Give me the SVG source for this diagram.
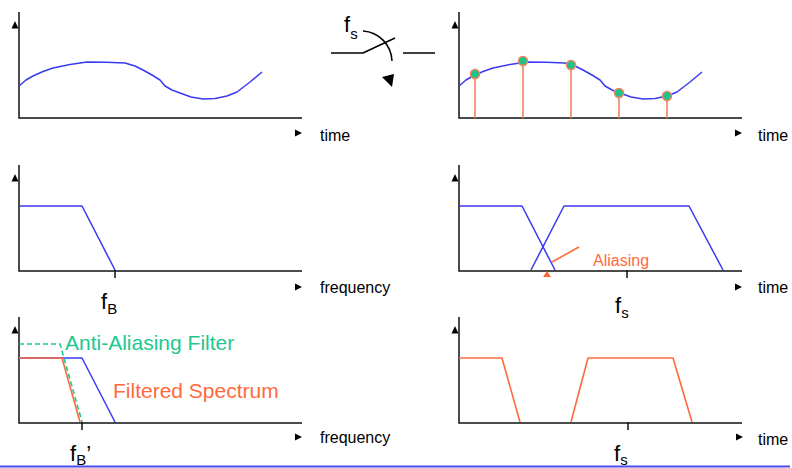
<svg xmlns="http://www.w3.org/2000/svg" xmlns:xlink="http://www.w3.org/1999/xlink" width="792" height="468" viewBox="0 0 792 468">
<style>
.ax{stroke:#111;stroke-width:1.5;fill:none}
.ah{fill:#000}
.bl{stroke:#3a3af2;stroke-width:1.5;fill:none;stroke-linejoin:round}
.or{stroke:#ff6a3d;stroke-width:1.6;fill:none;stroke-linejoin:round}
.gd{stroke:#1dc88f;stroke-width:1.6;fill:none;stroke-dasharray:5 3}
.stem{stroke:#f4805c;stroke-width:1.6}
.dot{fill:#1dc48a;stroke:#f4805c;stroke-width:1.5}
.lbl{font-family:"Liberation Sans",Arial,sans-serif;font-size:16px;fill:#000}
.f{font-family:"Liberation Sans",Arial,sans-serif;font-size:22px;fill:#000}
.sub{font-size:15px}
.big{font-family:"Liberation Sans",Arial,sans-serif;font-size:21px}
.sw{stroke:#000;stroke-width:1.5;fill:none}
</style>
<defs>
<polyline id="wave" class="bl" points="19,86 26,80 33,76 43,71.5 53,68 70,64.5 87,62 106,62.3 125,63 135,66 143,70 152,75 160,80 165,86 172,90 180,93 191,97 203,99 215,98.5 227,96 237,92 250,82 262,72"/>
<g id="axes">
<polyline class="ax" points="19,12 19,118 302,118"/>
<polygon class="ah" points="11.5,28.5 18.5,28.5 15,21"/>
</g>
</defs>

<g id="panel-signal">
<use xlink:href="#axes"/>
<polygon class="ah" points="295,129.5 295,136.5 302,133"/>
<text class="lbl" x="320" y="141">time</text>
<use xlink:href="#wave"/>
</g>

<g id="switch">
<line class="sw" x1="331" y1="53" x2="363" y2="53"/>
<line class="sw" x1="363" y1="53" x2="395" y2="38"/>
<line class="sw" x1="403" y1="53" x2="435" y2="53"/>
<path class="sw" d="M363,31 A31,31 0 0 1 392,61"/>
<polygon class="ah" points="382,77 394,74 392,87"/>
<text class="f" x="344" y="32">f<tspan class="sub" dy="7">s</tspan></text>
</g>

<g id="panel-sampled">
<use xlink:href="#axes" transform="translate(440,0)"/>
<polygon class="ah" points="735,129.5 735,136.5 742,133"/>
<text class="lbl" x="758" y="141">time</text>
<use xlink:href="#wave" transform="translate(440,0)"/>
<g>
<line class="stem" x1="475" y1="74" x2="475" y2="118"/>
<line class="stem" x1="523" y1="61" x2="523" y2="118"/>
<line class="stem" x1="571" y1="65" x2="571" y2="118"/>
<line class="stem" x1="619" y1="93" x2="619" y2="118"/>
<line class="stem" x1="667" y1="96" x2="667" y2="118"/>
<circle class="dot" cx="475" cy="74" r="4.5"/>
<circle class="dot" cx="523" cy="61" r="4.5"/>
<circle class="dot" cx="571" cy="65" r="4.5"/>
<circle class="dot" cx="619" cy="93" r="4.5"/>
<circle class="dot" cx="667" cy="96" r="4.5"/>
</g>
</g>

<g id="panel-spectrum">
<use xlink:href="#axes" transform="translate(0,153)"/>
<line class="ax" x1="115" y1="270" x2="115" y2="278"/>
<polygon class="ah" points="295,283.5 295,290.5 302,287"/>
<text class="lbl" x="320" y="293">frequency</text>
<polyline class="bl" points="19,206 82,206 115,270"/>
<text class="f" x="101" y="309">f<tspan class="sub" dy="5">B</tspan></text>
</g>

<g id="panel-aliasing">
<use xlink:href="#axes" transform="translate(440,153)"/>
<line class="ax" x1="627" y1="270" x2="627" y2="278"/>
<polygon class="ah" points="735,283.5 735,290.5 742,287"/>
<text class="lbl" x="758" y="293">time</text>
<polyline class="bl" points="459,206 522,206 555,270"/>
<polyline class="bl" points="531,270 564,206 689,206 723,270"/>
<line class="or" x1="552" y1="262" x2="579" y2="247" stroke-width="1.3"/>
<polygon fill="#ff6a3d" points="543,277 551,277 547,271"/>
<text class="lbl" x="593" y="266" style="fill:#ff6a3d">Aliasing</text>
<text class="f" x="615" y="313">f<tspan class="sub" dy="5">s</tspan></text>
</g>

<g id="panel-filtered">
<use xlink:href="#axes" transform="translate(0,305)"/>
<line class="ax" x1="82" y1="422" x2="82" y2="430"/>
<polygon class="ah" points="295,433.5 295,440.5 302,437"/>
<text class="lbl" x="320" y="443">frequency</text>
<polyline class="bl" points="19,358 82,358 115,422"/>
<polyline class="or" points="19,358 62,358 80,422"/>
<polyline class="gd" points="19,344 60,344 82,422"/>
<text class="big" x="65" y="350" fill="#1dc88f">Anti-Aliasing Filter</text>
<text class="big" x="113" y="398" fill="#ff6a3d">Filtered Spectrum</text>
<text class="f" x="70" y="461">f<tspan class="sub" dy="4">B</tspan><tspan dy="-4">’</tspan></text>
</g>

<g id="panel-filtered-sampled">
<use xlink:href="#axes" transform="translate(440,305)"/>
<line class="ax" x1="628" y1="422" x2="628" y2="430"/>
<polygon class="ah" points="736,433.5 736,440.5 743,437"/>
<text class="lbl" x="758" y="445">time</text>
<polyline class="or" points="459,358 502,358 520,422"/>
<polyline class="or" points="571,422 588,358 673,358 692,422"/>
<text class="f" x="614" y="461">f<tspan class="sub" dy="4">s</tspan></text>
</g>

<line id="footer-rule" x1="0" y1="466.5" x2="790" y2="466.5" stroke="#4a4af0" stroke-width="2"/>
</svg>
